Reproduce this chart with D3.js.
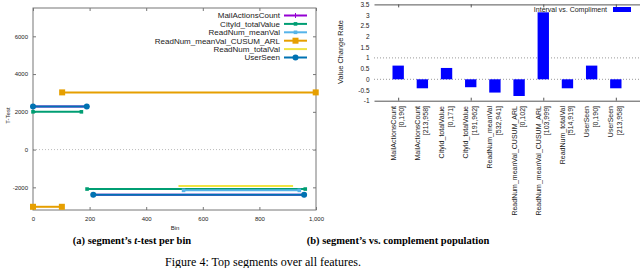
<!DOCTYPE html>
<html>
<head>
<meta charset="utf-8">
<script src="https://cdn.jsdelivr.net/npm/d3@7"></script>
<style>
  body { margin: 0; background: #fff; }
  svg { display: block; }
  text { font-family: "Liberation Sans", Arial, sans-serif; fill: #222; }
  .cap { font-family: "Liberation Serif", "Times New Roman", serif; fill: #000; }
</style>
</head>
<body>
<div id="chart"></div>
<script>
// ---- data: left panel, t-test per bin, each segment is [binStart, binEnd, tValue]
const seriesNames = ["MailActionsCount", "CityId_totalValue", "ReadNum_meanVal",
  "ReadNum_meanVal_CUSUM_ARL", "ReadNum_totalVal", "UserSeen"];
const seriesColors = ["#9400d3", "#009e73", "#56b4e9", "#e69f00", "#f0e442", "#0072b2"];
const seriesMarkers = ["plus", "smallsquare", "smallsquare", "square", "none", "circle"];
const mailActionsCount = [[0, 190, 2280], [213, 958, -2390]];
const cityIdTotalValue = [[0, 171, 2000], [191, 962, -2090]];
const readNumMeanVal = [[532, 941, -2160]];
const readNumCusumArl = [[0, 102, -3030], [103, 999, 3030]];
const readNumTotalVal = [[514, 919, -1930]];
const userSeen = [[0, 190, 2280], [213, 958, -2390]];
const segments = [mailActionsCount, cityIdTotalValue, readNumMeanVal,
  readNumCusumArl, readNumTotalVal, userSeen];
const binTicks = [0, 200, 400, 600, 800, 1000];
const tTicks = [-2000, 0, 2000, 4000, 6000];

// ---- data: right panel, value change rate per segment
const barNames = ["MailActionsCount", "MailActionsCount", "CityId_totalValue", "CityId_totalValue",
  "ReadNum_meanVal", "ReadNum_meanVal_CUSUM_ARL", "ReadNum_meanVal_CUSUM_ARL",
  "ReadNum_totalVal", "UserSeen", "UserSeen"];
const barIntervals = ["[0,190]", "[213,958]", "[0,171]", "[191,962]", "[532,941]",
  "[0,102]", "[103,999]", "[514,919]", "[0,190]", "[213,958]"];
const barValues = [0.64, -0.42, 0.53, -0.37, -0.62, -0.78, 3.13, -0.42, 0.64, -0.42];
const rateTicks = [-1, -0.5, 0, 0.5, 1, 1.5, 2, 2.5, 3, 3.5];

const svg = d3.select("#chart").append("svg")
    .attr("width", 640)
    .attr("height", 268);

// ================= left panel =================
const x = d3.scaleLinear().domain([0, 1000]).range([33, 316]);
const y = d3.scaleLinear().domain([-3200, 7500]).range([210, 8]);

// zero line
svg.append("line")
    .attr("x1", x(0)).attr("x2", x(1000))
    .attr("y1", y(0)).attr("y2", y(0))
    .attr("stroke", "#bbb")
    .attr("stroke-dasharray", "1,2");

// axes (gnuplot style, ticks inward, mirrored)
const gxb = svg.append("g").attr("transform", `translate(0,${y.range()[0]})`)
    .call(d3.axisBottom(x).tickValues(binTicks).tickSize(-3).tickPadding(7));
const gxt = svg.append("g").attr("transform", `translate(0,${y.range()[1]})`)
    .call(d3.axisTop(x).tickValues(binTicks).tickSize(-3).tickFormat(""));
const gyl = svg.append("g").attr("transform", `translate(${x.range()[0]},0)`)
    .call(d3.axisLeft(y).tickValues(tTicks).tickSize(-3).tickPadding(5).tickFormat(d3.format("d")));
const gyr = svg.append("g").attr("transform", `translate(${x.range()[1]},0)`)
    .call(d3.axisRight(y).tickValues(tTicks).tickSize(-3).tickFormat(""));
[gxb, gxt, gyl, gyr].forEach(g => {
    g.select(".domain").remove();
    g.selectAll("line").attr("stroke", "#777");
    g.selectAll("text").style("font-size", "6px").style("font-family", "Liberation Sans, Arial, sans-serif").attr("fill", "#222");
});
gyl.selectAll("text").text(d => d < 0 ? "-" + Math.abs(d) : d);

svg.append("rect")
    .attr("x", x(0)).attr("y", y.range()[1])
    .attr("width", x(1000) - x(0)).attr("height", y.range()[0] - y.range()[1])
    .attr("fill", "none")
    .attr("stroke", "#777")
    .attr("stroke-width", 1);

svg.append("text")
    .attr("x", (x(0) + x(1000)) / 2 + 0.5).attr("y", 230)
    .attr("text-anchor", "middle")
    .style("font-size", "6px")
    .text("Bin");

svg.append("text")
    .attr("transform", `translate(10,${y(1800)}) rotate(-90)`)
    .attr("text-anchor", "middle")
    .style("font-size", "6px")
    .text("T-Test");

function drawMarker(g, type, cx, cy, color) {
    if (type === "circle") {
        g.append("circle").attr("cx", cx).attr("cy", cy).attr("r", 3).attr("fill", color);
    } else if (type === "square") {
        g.append("rect").attr("x", cx - 3).attr("y", cy - 3).attr("width", 6).attr("height", 6).attr("fill", color);
    } else if (type === "smallsquare") {
        g.append("rect").attr("x", cx - 1.8).attr("y", cy - 1.8).attr("width", 3.6).attr("height", 3.6).attr("fill", color);
    } else if (type === "plus") {
        g.append("path").attr("d", `M${cx - 2.5},${cy}h5M${cx},${cy - 2.5}v5`)
            .attr("stroke", color).attr("stroke-width", 1);
    }
}

// segments
segments.forEach((segs, i) => {
    const g = svg.append("g");
    segs.forEach(s => {
        g.append("line")
            .attr("x1", x(s[0])).attr("x2", x(s[1]))
            .attr("y1", y(s[2])).attr("y2", y(s[2]))
            .attr("stroke", seriesColors[i])
            .attr("stroke-width", 2);
        drawMarker(g, seriesMarkers[i], x(s[0]), y(s[2]), seriesColors[i]);
        drawMarker(g, seriesMarkers[i], x(s[1]), y(s[2]), seriesColors[i]);
    });
});

// legend
const legend = svg.append("g");
seriesNames.forEach((name, i) => {
    const ly = 15.5 + i * 8.4;
    legend.append("text")
        .attr("x", 280).attr("y", ly + 2.8)
        .attr("text-anchor", "end")
        .style("font-size", "8px")
        .text(name);
    legend.append("line")
        .attr("x1", 284).attr("x2", 307)
        .attr("y1", ly).attr("y2", ly)
        .attr("stroke", seriesColors[i])
        .attr("stroke-width", 2);
    drawMarker(legend, seriesMarkers[i], 295.5, ly, seriesColors[i]);
});

// ================= right panel =================
const x2 = d3.scaleLinear().domain([-1, 10]).range([374, 640]);
const y2 = d3.scaleLinear().domain([-1, 3.5]).range([100.7, 4.4]);
const barW = 0.47;

// dotted grid at 0 and 1
[0, 1].forEach(v => {
    svg.append("line")
        .attr("x1", x2(-1)).attr("x2", x2(10))
        .attr("y1", y2(v)).attr("y2", y2(v))
        .attr("stroke", "#999")
        .attr("stroke-dasharray", "1,2");
});

svg.append("g")
    .selectAll("rect")
    .data(barValues)
    .enter()
    .append("rect")
    .attr("x", (d, i) => x2(i - barW / 2))
    .attr("width", x2(barW) - x2(0))
    .attr("y", d => y2(Math.max(d, 0)))
    .attr("height", d => Math.abs(y2(d) - y2(0)))
    .attr("fill", "#0000ff");

const catTicks = [0, 3, 6, 9];
const bx = svg.append("g").attr("transform", `translate(0,${y2.range()[0]})`)
    .call(d3.axisBottom(x2).tickValues(catTicks).tickSize(-3).tickSizeOuter(0).tickFormat(""));
const tx = svg.append("g").attr("transform", `translate(0,${y2.range()[1]})`)
    .call(d3.axisTop(x2).tickValues(catTicks).tickSize(-3).tickSizeOuter(0).tickFormat(""));
[bx, tx].forEach(g => {
    g.select(".domain").attr("stroke", "#555");
    g.selectAll("line").attr("stroke", "#555");
});

const ly2 = svg.append("g").attr("transform", `translate(${x2.range()[0]},0)`)
    .call(d3.axisLeft(y2).tickValues(rateTicks).tickSize(0).tickPadding(4.5).tickFormat(d => d));
ly2.select(".domain").remove();
ly2.selectAll("text").style("font-size", "6.5px").style("font-family", "Liberation Sans, Arial, sans-serif").attr("fill", "#222");

svg.append("text")
    .attr("transform", `translate(343,52) rotate(-90)`)
    .attr("text-anchor", "middle")
    .style("font-size", "7.4px")
    .text("Value Change Rate");

// category labels, rotated, two lines
barNames.forEach((name, i) => {
    svg.append("text")
        .attr("transform", `translate(${x2(i) - 2.5},106) rotate(-90)`)
        .attr("text-anchor", "end")
        .style("font-size", "7px")
        .text(name);
    svg.append("text")
        .attr("transform", `translate(${x2(i) + 6},106) rotate(-90)`)
        .attr("text-anchor", "end")
        .style("font-size", "7px")
        .text(barIntervals[i]);
});

// bar legend
svg.append("text")
    .attr("x", 607).attr("y", 11.5)
    .attr("text-anchor", "end")
    .style("font-size", "7px")
    .text("Interval vs. Compliment");
svg.append("rect")
    .attr("x", 613).attr("y", 7)
    .attr("width", 18).attr("height", 5)
    .attr("fill", "#0000ff");

// ================= captions =================
const capA = svg.append("text").attr("class", "cap")
    .attr("x", 132).attr("y", 244)
    .attr("text-anchor", "middle")
    .style("font-size", "10.5px").style("font-weight", "bold");
capA.append("tspan").text("(a) segment\u2019s ");
capA.append("tspan").style("font-style", "italic").text("t");
capA.append("tspan").text("-test per bin");

svg.append("text").attr("class", "cap")
    .attr("x", 398).attr("y", 244)
    .attr("text-anchor", "middle")
    .style("font-size", "10.5px").style("font-weight", "bold")
    .text("(b) segment\u2019s vs. complement population");

svg.append("text").attr("class", "cap")
    .attr("x", 263).attr("y", 266)
    .attr("text-anchor", "middle")
    .style("font-size", "12px")
    .text("Figure 4: Top segments over all features.");
</script>
</body>
</html>
